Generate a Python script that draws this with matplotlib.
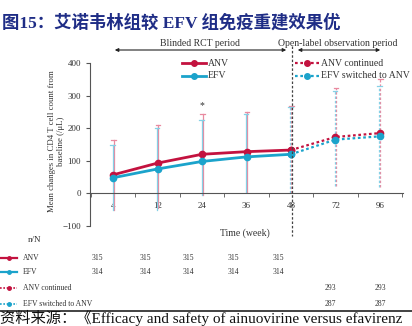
import matplotlib
matplotlib.use("Agg")
import matplotlib.pyplot as plt
from matplotlib.lines import Line2D
from matplotlib.patches import FancyArrowPatch

# data
weeks = ["4", "12", "24", "36", "48", "72", "96"]
anv_mean = [57, 93, 120, 128, 133, 173, 185]
efv_mean = [48, 75, 98, 112, 120, 165, 175]
anv_upper = [165, 210, 245, 250, 268, 322, 352]
efv_upper = [150, 200, 225, 245, 265, 313, 330]
anv_lower = [-50, -45, -5, 5, 0, 22, 20]
efv_lower = [-50, -50, -5, 5, 0, 22, 20]

anv_n = ["315", "315", "315", "315", "315"]
efv_n = ["314", "314", "314", "314", "314"]
anv_cont_n = ["293", "293"]
efv_sw_n = ["287", "287"]

RED = "#c3123f"
BLUE = "#1ba3cb"
RED_L = "#e98aa0"
BLUE_L = "#86d0e6"
SERIF = ["Liberation Serif", "DejaVu Serif"]
MIXED = ["Liberation Serif", "Noto Sans CJK SC"]

W, H = 412, 326
fig = plt.figure(figsize=(W / 100, H / 100), dpi=100)
fig.patch.set_facecolor("white")

def fx(px):
    return px / W

def fy(py):
    return 1 - py / H

ax = fig.add_axes([fx(90), fy(226), fx(403) - fx(90), fy(63) - fy(226)])
x = list(range(len(weeks)))
rct = slice(0, 5)
ol = slice(4, 7)

# error bars
d = 0.012
for i in x:
    ls = "-" if i < 4 else (0, (2, 1.5))
    ax.plot([i + d, i + d], [anv_lower[i], anv_upper[i]], color=RED_L, lw=0.9, ls=ls, zorder=2)
    ax.plot([i + d - 0.05, i + d + 0.05], [anv_upper[i]] * 2, color=RED_L, lw=0.9, zorder=2)
    ax.plot([i - d, i - d], [efv_lower[i], efv_upper[i]], color=BLUE_L, lw=0.9, ls=ls, zorder=2)
    ax.plot([i - d - 0.05, i - d + 0.05], [efv_upper[i]] * 2, color=BLUE_L, lw=0.9, zorder=2)

# mean lines
ax.plot(x[rct], anv_mean[rct], color=RED, lw=2, marker="o", ms=4.5, zorder=4)
ax.plot(x[rct], efv_mean[rct], color=BLUE, lw=2, marker="o", ms=4.5, zorder=4)
ax.plot(x[ol], anv_mean[ol], color=RED, lw=1.6, ls=(0, (1.2, 1.2)), marker="o", ms=4.5, zorder=4)
ax.plot(x[ol], efv_mean[ol], color=BLUE, lw=1.6, ls=(0, (1.2, 1.2)), marker="o", ms=4.5, zorder=4)

ax.text(2, 268, "*", ha="center", va="center", fontsize=7, color="#333333", family=SERIF)

ax.set_xlim(-0.52, 6.52)
ax.set_ylim(-100, 400)
ax.spines["top"].set_visible(False)
ax.spines["right"].set_visible(False)
ax.spines["bottom"].set_position(("data", 0))
for s in ("left", "bottom"):
    ax.spines[s].set_color("#555555")
    ax.spines[s].set_linewidth(0.8)
ax.set_yticks([-100, 0, 100, 200, 300, 400])
ax.set_xticks(x)
ax.set_xticklabels(weeks)
ax.set_xticks([i + 0.5 for i in range(-1, 7)], minor=True)
ax.tick_params(axis="x", which="major", length=0, pad=6, labelsize=6.5, labelcolor="#333333")
ax.tick_params(axis="x", which="minor", length=3, direction="out", color="#555555")
ax.tick_params(axis="y", length=3, labelsize=6.5, labelcolor="#333333", color="#555555")
for lab in ax.get_xticklabels() + ax.get_yticklabels():
    lab.set_family(SERIF)

ax.set_ylabel("Mean changes in CD4 T cell count from\nbaseline (/μL)", fontsize=6.3,
              family=SERIF, color="#333333", linespacing=1.15)
ax.yaxis.set_label_coords(-0.08, 0.52)
fig.text(fx(245), fy(233), "Time (week)", ha="center", va="center", fontsize=7,
         family=SERIF, color="#333333")

# vertical separator at week 48
fig.add_artist(Line2D([fx(292), fx(292)], [fy(46), fy(236)], color="#444444",
                      lw=0.9, ls=(0, (2, 1.5))))

# period arrows
for x0, x1, label, cx in [(112, 289, "Blinded RCT period", 200),
                          (295, 383, "Open-label observation period", 338)]:
    fig.add_artist(FancyArrowPatch(
        (fx(x0), fy(50)), (fx(x1), fy(50)), transform=fig.transFigure,
        arrowstyle="<|-|>", mutation_scale=5, color="#222222", lw=0.8))
    fig.text(fx(cx), fy(43), label, ha="center", va="center", fontsize=7,
             family=SERIF, color="#333333")

# legends
legend_rows = [
    (182, 63, RED, "-", "ANV"),
    (182, 76, BLUE, "-", "EFV"),
    (295, 63, RED, ":", "ANV continued"),
    (295, 76, BLUE, ":", "EFV switched to ANV"),
]
for lx, ly, col, ls, name in legend_rows:
    lw = 2 if ls == "-" else 1.6
    fig.add_artist(Line2D([fx(lx), fx(lx + 24)], [fy(ly), fy(ly)], color=col, lw=lw,
                          ls="-" if ls == "-" else (0, (1.2, 1.2))))
    fig.add_artist(Line2D([fx(lx + 12)], [fy(ly)], color=col, marker="o", ms=4))
    fig.text(fx(lx + 26), fy(ly), name, ha="left", va="center", fontsize=7,
             family=SERIF, color="#333333")

# n/N table
fig.text(fx(28), fy(240), "n/N", ha="left", va="center", fontsize=6.5, family=SERIF, color="#333333")
table_rows = [
    (258, RED, "-", "ANV", anv_n, [97, 145, 188, 233, 278]),
    (272, BLUE, "-", "EFV", efv_n, [97, 145, 188, 233, 278]),
    (288, RED, ":", "ANV continued", anv_cont_n, [330, 380]),
    (304, BLUE, ":", "EFV switched to ANV", efv_sw_n, [330, 380]),
]
for ty, col, ls, name, vals, xs in table_rows:
    fig.add_artist(Line2D([fx(0), fx(17)], [fy(ty), fy(ty)], color=col,
                          lw=1.6 if ls == "-" else 1.2,
                          ls="-" if ls == "-" else (0, (1, 1))))
    fig.add_artist(Line2D([fx(9)], [fy(ty)], color=col, marker="o", ms=2.5))
    fig.text(fx(23), fy(ty), name, ha="left", va="center", fontsize=5.5,
             family=SERIF, color="#333333")
    for v, px in zip(vals, xs):
        fig.text(fx(px), fy(ty), v, ha="center", va="center", fontsize=5.5,
                 family=SERIF, color="#333333")

# title
fig.text(fx(2), fy(23), "图15：艾诺韦林组较 EFV 组免疫重建效果优", ha="left", va="center",
         fontsize=12.5, fontweight="bold", color="#1f2d86", family=MIXED)

# source line
fig.add_artist(Line2D([0, 1], [fy(311), fy(311)], color="#222222", lw=1.2))
fig.text(fx(0), fy(325.5), "资料来源：《Efficacy and safety of ainuovirine versus efavirenz",
         ha="left", va="bottom", fontsize=11, color="#111111", family=MIXED)

fig.savefig("out.png", dpi=100)
